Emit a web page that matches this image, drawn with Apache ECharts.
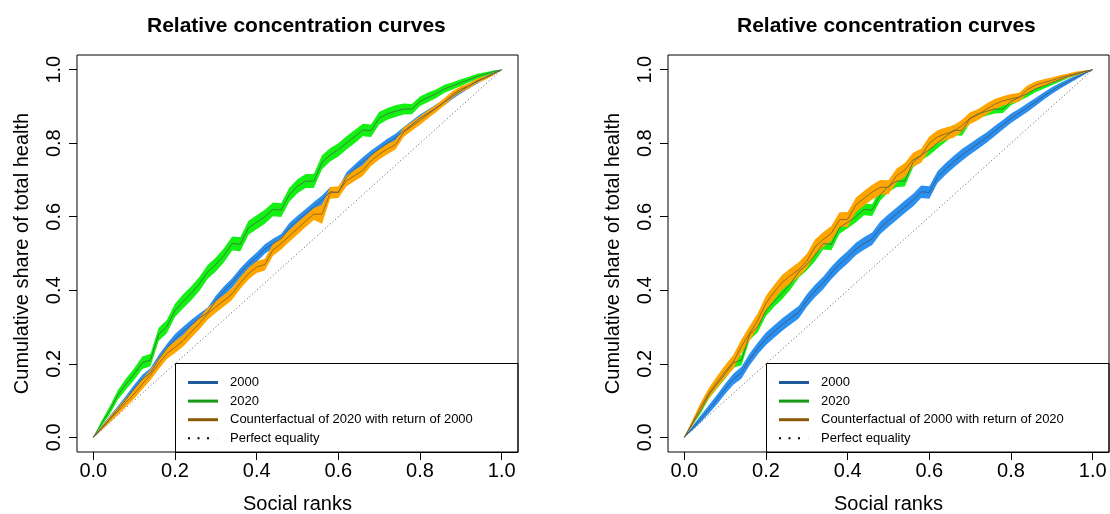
<!DOCTYPE html>
<html>
<head>
<meta charset="utf-8">
<script src="https://cdn.jsdelivr.net/npm/echarts@6/dist/echarts.min.js"></script>
<style>
  html, body { margin: 0; padding: 0; background: #fff; }
  #chart { width: 1110px; height: 514px; }
</style>
</head>
<body>
<div id="chart"></div>
<script>
// Social ranks (population share, poorest to richest)
const ranks = [
  0.00, 0.02, 0.04, 0.06, 0.08, 0.10, 0.12, 0.14, 0.16, 0.18,
  0.20, 0.22, 0.24, 0.26, 0.28, 0.30, 0.32, 0.34, 0.36, 0.38,
  0.40, 0.42, 0.44, 0.46, 0.48, 0.50, 0.52, 0.54, 0.56, 0.58,
  0.60, 0.62, 0.64, 0.66, 0.68, 0.70, 0.72, 0.74, 0.76, 0.78,
  0.80, 0.82, 0.84, 0.86, 0.88, 0.90, 0.92, 0.94, 0.96, 0.98,
  1.00
];

// Cumulative share of total health, 2000
const share2000 = [
  0, 0.025, 0.050, 0.076, 0.103, 0.132, 0.158, 0.176, 0.212, 0.242,
  0.268, 0.288, 0.307, 0.324, 0.340, 0.372, 0.398, 0.420, 0.447, 0.470,
  0.490, 0.512, 0.527, 0.540, 0.570, 0.590, 0.608, 0.627, 0.645, 0.668,
  0.666, 0.708, 0.730, 0.750, 0.768, 0.784, 0.800, 0.815, 0.833, 0.850,
  0.868, 0.882, 0.897, 0.912, 0.928, 0.943, 0.956, 0.968, 0.979, 0.990,
  1
];

// Cumulative share of total health, 2020
const share2020 = [
  0, 0.037, 0.073, 0.115, 0.145, 0.172, 0.203, 0.210, 0.280, 0.301,
  0.345, 0.370, 0.392, 0.418, 0.450, 0.470, 0.495, 0.527, 0.525, 0.570,
  0.585, 0.600, 0.620, 0.618, 0.660, 0.683, 0.697, 0.697, 0.748, 0.768,
  0.782, 0.801, 0.818, 0.836, 0.834, 0.868, 0.880, 0.887, 0.893, 0.893,
  0.914, 0.925, 0.935, 0.948, 0.956, 0.965, 0.973, 0.982, 0.988, 0.995,
  1
];

// Counterfactual of 2020 with return of 2000
const cf2020 = [
  0, 0.024, 0.048, 0.071, 0.095, 0.118, 0.145, 0.170, 0.200, 0.228,
  0.245, 0.263, 0.287, 0.310, 0.336, 0.355, 0.372, 0.390, 0.420, 0.445,
  0.463, 0.470, 0.510, 0.527, 0.548, 0.568, 0.588, 0.607, 0.607, 0.665,
  0.667, 0.698, 0.712, 0.726, 0.752, 0.770, 0.784, 0.796, 0.830, 0.846,
  0.862, 0.879, 0.895, 0.913, 0.933, 0.947, 0.956, 0.970, 0.978, 0.988,
  1
];

// Counterfactual of 2000 with return of 2020
const cf2000 = [
  0, 0.040, 0.082, 0.120, 0.150, 0.179, 0.205, 0.248, 0.283, 0.318,
  0.365, 0.395, 0.422, 0.440, 0.456, 0.479, 0.518, 0.538, 0.555, 0.592,
  0.593, 0.632, 0.650, 0.667, 0.680, 0.680, 0.712, 0.727, 0.755, 0.766,
  0.800, 0.817, 0.826, 0.832, 0.848, 0.868, 0.878, 0.893, 0.906, 0.915,
  0.921, 0.925, 0.946, 0.958, 0.965, 0.971, 0.978, 0.984, 0.990, 0.995,
  1
];

// Confidence band half-widths
const hw2000L = [
  0, 0.005, 0.008, 0.009, 0.010, 0.011, 0.012, 0.012, 0.012, 0.012,
  0.013, 0.013, 0.013, 0.013, 0.013, 0.013, 0.013, 0.013, 0.013, 0.013,
  0.013, 0.013, 0.013, 0.013, 0.013, 0.013, 0.013, 0.013, 0.013, 0.013,
  0.013, 0.013, 0.012, 0.012, 0.012, 0.012, 0.012, 0.011, 0.011, 0.011,
  0.010, 0.010, 0.009, 0.009, 0.008, 0.008, 0.007, 0.006, 0.004, 0.003,
  0
];
const hw2000R = [
  0, 0.006, 0.009, 0.011, 0.013, 0.014, 0.015, 0.016, 0.016, 0.016,
  0.017, 0.017, 0.017, 0.017, 0.017, 0.017, 0.017, 0.017, 0.017, 0.017,
  0.017, 0.017, 0.017, 0.017, 0.017, 0.017, 0.017, 0.017, 0.017, 0.017,
  0.017, 0.016, 0.016, 0.016, 0.016, 0.015, 0.015, 0.014, 0.014, 0.013,
  0.013, 0.012, 0.012, 0.011, 0.010, 0.009, 0.008, 0.007, 0.005, 0.003,
  0
];
const hw2020L = [
  0, 0.007, 0.011, 0.013, 0.015, 0.016, 0.017, 0.017, 0.018, 0.018,
  0.018, 0.019, 0.019, 0.019, 0.019, 0.019, 0.019, 0.019, 0.019, 0.019,
  0.019, 0.019, 0.019, 0.019, 0.019, 0.019, 0.019, 0.019, 0.019, 0.018,
  0.018, 0.018, 0.018, 0.017, 0.017, 0.017, 0.016, 0.016, 0.015, 0.014,
  0.013, 0.013, 0.012, 0.011, 0.010, 0.009, 0.008, 0.007, 0.005, 0.003,
  0
];
const hw2020R = [
  0, 0.005, 0.008, 0.010, 0.012, 0.013, 0.014, 0.014, 0.015, 0.015,
  0.015, 0.015, 0.016, 0.016, 0.016, 0.016, 0.016, 0.016, 0.016, 0.016,
  0.016, 0.016, 0.016, 0.016, 0.016, 0.016, 0.016, 0.015, 0.015, 0.015,
  0.015, 0.015, 0.014, 0.014, 0.014, 0.013, 0.013, 0.012, 0.012, 0.011,
  0.011, 0.010, 0.009, 0.009, 0.008, 0.007, 0.006, 0.005, 0.004, 0.002,
  0
];
const hwCf2020 = [
  0, 0.005, 0.008, 0.010, 0.012, 0.013, 0.014, 0.014, 0.015, 0.015,
  0.016, 0.016, 0.016, 0.016, 0.016, 0.016, 0.016, 0.016, 0.016, 0.016,
  0.016, 0.016, 0.016, 0.016, 0.016, 0.016, 0.016, 0.016, 0.026, 0.016,
  0.016, 0.015, 0.015, 0.015, 0.014, 0.014, 0.014, 0.013, 0.013, 0.012,
  0.012, 0.011, 0.010, 0.010, 0.009, 0.008, 0.007, 0.006, 0.005, 0.003,
  0
];
const hwCf2000 = [
  0, 0.008, 0.012, 0.014, 0.016, 0.018, 0.019, 0.019, 0.020, 0.020,
  0.020, 0.020, 0.020, 0.020, 0.020, 0.020, 0.020, 0.020, 0.020, 0.020,
  0.020, 0.020, 0.020, 0.020, 0.020, 0.019, 0.019, 0.019, 0.019, 0.019,
  0.018, 0.018, 0.017, 0.017, 0.016, 0.016, 0.015, 0.015, 0.014, 0.013,
  0.013, 0.012, 0.011, 0.010, 0.009, 0.008, 0.007, 0.006, 0.005, 0.003,
  0
];

// Perfect equality diagonal
const equalityX = [0, 1];
const equalityY = [0, 1];

// Tick positions for both axes
const tickValues = [0, 0.2, 0.4, 0.6, 0.8, 1.0];

const titleText = 'Relative concentration curves';
const xTitle = 'Social ranks';
const yTitle = 'Cumulative share of total health';
const legendLeft = ['2000', '2020', 'Counterfactual of 2020 with return of 2000', 'Perfect equality'];
const legendRight = ['2000', '2020', 'Counterfactual of 2000 with return of 2020', 'Perfect equality'];

const FONT = '"Liberation Sans", Arial, Helvetica, sans-serif';
const BAND = { blue: '#2b8ff0', green: '#14f014', orange: '#ffa500' };
const LINE = { blue: '#3d5670', green: '#406840', orange: '#7a5a2a' };
const KEY = { blue: '#1f5a9b', green: '#159a15', orange: '#8b5a06' };
const DOTS = 'path://M0,0h2v2h-2z M9.5,0h2v2h-2z M19,0h2v2h-2z M29.9,0h0.1v2h-0.1z';

const chart = echarts.init(document.getElementById('chart'), null, { renderer: 'canvas' });

function band(gi, mid, hw, color) {
  const rows = ranks.map((r, i) => [r, mid[i] - hw[i], mid[i] + hw[i]]);
  return {
    type: 'custom',
    xAxisIndex: gi, yAxisIndex: gi,
    silent: true,
    data: [[0, 0]],
    renderItem(params, api) {
      const upper = rows.map(d => api.coord([d[0], d[2]]));
      const lower = rows.map(d => api.coord([d[0], d[1]])).reverse();
      return {
        type: 'polygon',
        shape: { points: upper.concat(lower) },
        style: { fill: color, stroke: null }
      };
    }
  };
}

function curve(gi, name, mid, color) {
  return {
    type: 'line', name,
    xAxisIndex: gi, yAxisIndex: gi,
    data: ranks.map((r, i) => [r, mid[i]]),
    symbol: 'none', showSymbol: false, silent: true,
    lineStyle: { color, width: 0.8 },
    itemStyle: { color },
    z: 4
  };
}

function diagonal(gi) {
  return {
    type: 'line', name: 'Perfect equality',
    xAxisIndex: gi, yAxisIndex: gi,
    data: equalityX.map((x, i) => [x, equalityY[i]]),
    symbol: 'none', showSymbol: false, silent: true,
    lineStyle: { color: '#555', width: 1, type: [1, 2.5] },
    itemStyle: { color: '#000' },
    z: 3
  };
}

function xAxis(gi) {
  return {
    type: 'value', gridIndex: gi, min: -0.04, max: 1.04,
    axisLine: { show: false, onZero: false },
    axisTick: { show: true, customValues: tickValues, length: 8, lineStyle: { color: '#000', width: 1 } },
    axisLabel: { customValues: tickValues, formatter: v => v.toFixed(1), fontSize: 20, color: '#000', fontFamily: FONT, margin: 9 },
    splitLine: { show: false },
    name: xTitle, nameLocation: 'middle', nameGap: 42,
    nameTextStyle: { fontSize: 20, color: '#000', fontFamily: FONT }
  };
}

function yAxis(gi) {
  return {
    type: 'value', gridIndex: gi, min: -0.04, max: 1.04,
    axisLine: { show: false, onZero: false },
    axisTick: { show: true, customValues: tickValues, length: 8, lineStyle: { color: '#000', width: 1 } },
    axisLabel: { customValues: tickValues, formatter: v => v.toFixed(1), rotate: 90, fontSize: 20, color: '#000', fontFamily: FONT, margin: 13 },
    splitLine: { show: false },
    name: yTitle, nameLocation: 'middle', nameGap: 45, nameRotate: 90,
    nameTextStyle: { fontSize: 20, color: '#000', fontFamily: FONT }
  };
}

function legend(left, names) {
  const colors = [KEY.blue, KEY.green, KEY.orange, '#000'];
  return {
    orient: 'vertical', left, top: 375.5, padding: 0,
    itemGap: 4.6, itemWidth: 30, itemHeight: 3,
    selectedMode: false, icon: 'rect',
    itemStyle: { borderWidth: 0 },
    textStyle: { fontFamily: FONT, fontSize: 13, color: '#000', lineHeight: 14, padding: [0, 0, 0, 7] },
    data: names.map((n, i) => ({
      name: n,
      icon: i === 3 ? DOTS : 'rect',
      itemStyle: { color: colors[i], borderWidth: 0 }
    }))
  };
}

const grids = [
  { left: 77, top: 55, width: 441, height: 397 },
  { left: 668, top: 55, width: 441, height: 397 }
].map(g => Object.assign(g, {
  show: true, borderColor: '#000', borderWidth: 1, backgroundColor: 'transparent',
  containLabel: false, outerBoundsMode: 'none'
}));

chart.setOption({
  animation: false,
  backgroundColor: '#fff',
  title: [
    { text: titleText, left: 147, top: 16, padding: 0, textStyle: { fontSize: 21, fontWeight: 'bold', color: '#000', fontFamily: FONT } },
    { text: titleText, left: 737, top: 16, padding: 0, textStyle: { fontSize: 21, fontWeight: 'bold', color: '#000', fontFamily: FONT } }
  ],
  grid: grids,
  xAxis: [xAxis(0), xAxis(1)],
  yAxis: [yAxis(0), yAxis(1)],
  legend: [legend(188, legendLeft), legend(779, legendRight)],
  graphic: [
    { type: 'rect', shape: { x: 175.5, y: 363.5, width: 342.5, height: 89 }, style: { fill: null, stroke: '#000', lineWidth: 1 }, z: 10 },
    { type: 'rect', shape: { x: 766.5, y: 363.5, width: 342.5, height: 89 }, style: { fill: null, stroke: '#000', lineWidth: 1 }, z: 10 }
  ],
  series: [
    band(0, share2000, hw2000L, BAND.blue),
    band(0, share2020, hw2020L, BAND.green),
    band(0, cf2020, hwCf2020, BAND.orange),
    diagonal(0),
    curve(0, legendLeft[0], share2000, LINE.blue),
    curve(0, legendLeft[1], share2020, LINE.green),
    curve(0, legendLeft[2], cf2020, LINE.orange),

    band(1, share2000, hw2000R, BAND.blue),
    band(1, share2020, hw2020R, BAND.green),
    band(1, cf2000, hwCf2000, BAND.orange),
    diagonal(1),
    curve(1, legendRight[0], share2000, LINE.blue),
    curve(1, legendRight[1], share2020, LINE.green),
    curve(1, legendRight[2], cf2000, LINE.orange)
  ]
});
</script>
</body>
</html>
